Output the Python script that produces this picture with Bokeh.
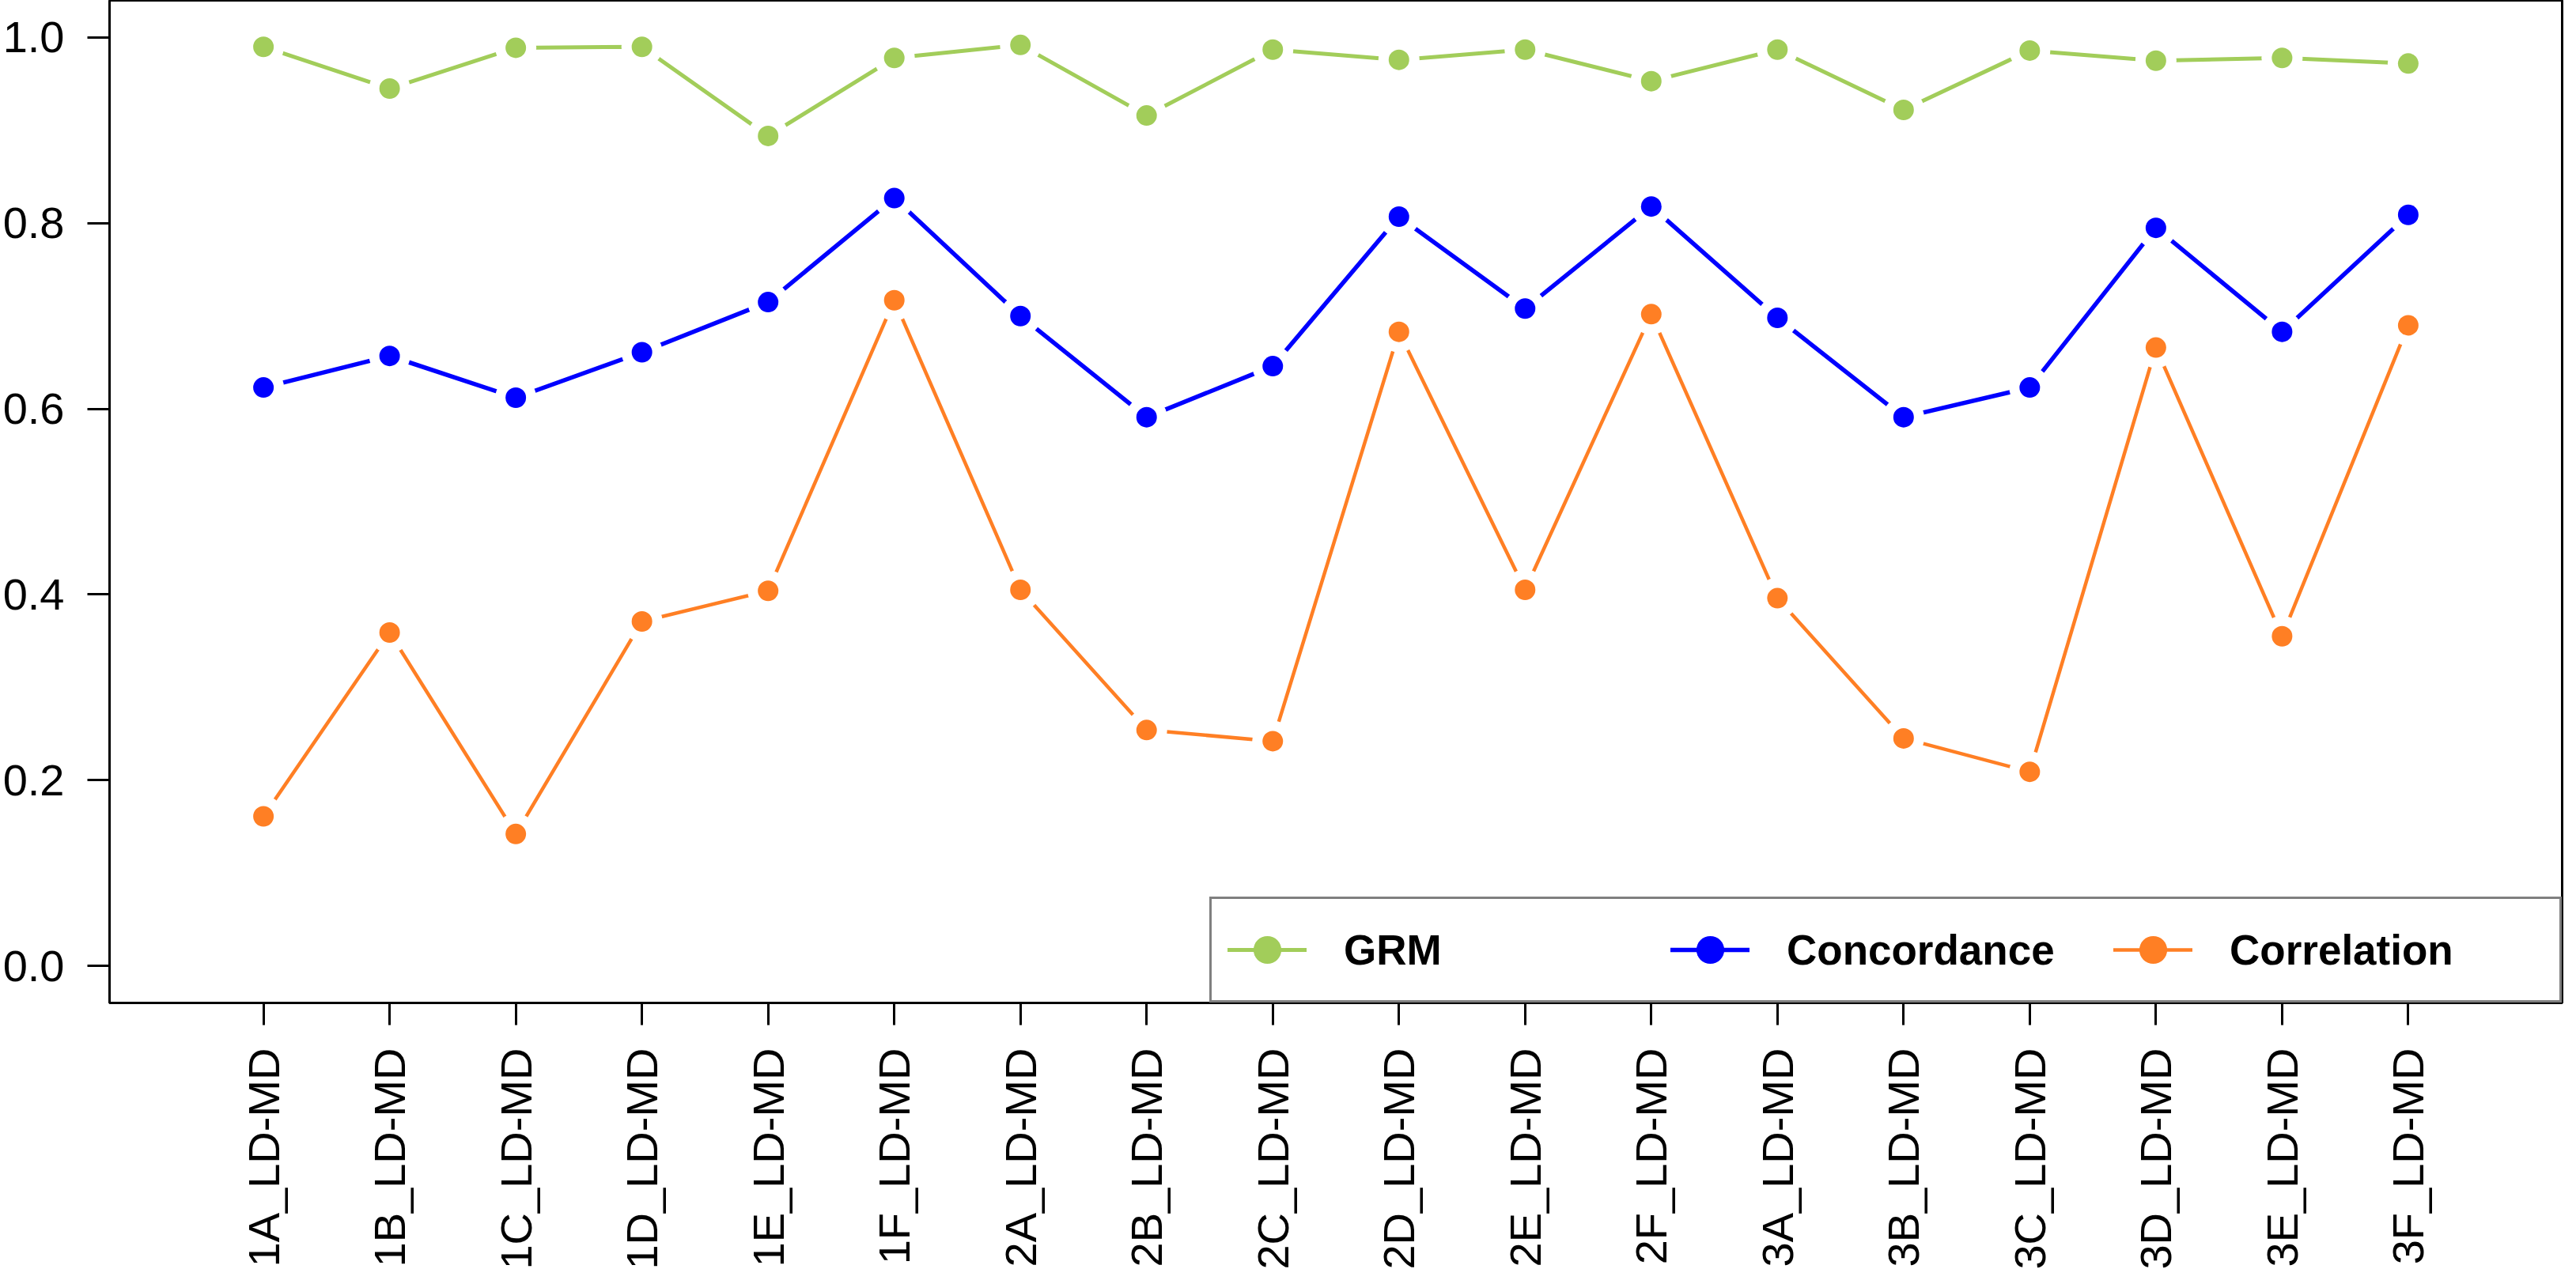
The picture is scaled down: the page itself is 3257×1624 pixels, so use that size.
import math
from bokeh.plotting import figure
from bokeh.models import Range1d, FixedTicker, Legend, LegendItem, ColumnDataSource
from bokeh.embed import file_html
from bokeh.resources import INLINE

categories = ["1A_LD-MD", "1B_LD-MD", "1C_LD-MD", "1D_LD-MD", "1E_LD-MD", "1F_LD-MD",
              "2A_LD-MD", "2B_LD-MD", "2C_LD-MD", "2D_LD-MD", "2E_LD-MD", "2F_LD-MD",
              "3A_LD-MD", "3B_LD-MD", "3C_LD-MD", "3D_LD-MD", "3E_LD-MD", "3F_LD-MD"]
grm = [0.990, 0.945, 0.989, 0.990, 0.894, 0.978, 0.992, 0.916, 0.987,
       0.976, 0.987, 0.953, 0.987, 0.922, 0.986, 0.975, 0.978, 0.972]
concordance = [0.623, 0.657, 0.612, 0.661, 0.715, 0.827, 0.700, 0.591, 0.646,
               0.807, 0.708, 0.818, 0.698, 0.591, 0.623, 0.795, 0.683, 0.809]
correlation = [0.161, 0.359, 0.142, 0.371, 0.404, 0.717, 0.405, 0.254, 0.242,
               0.683, 0.405, 0.702, 0.396, 0.245, 0.209, 0.666, 0.355, 0.690]
y_ticks = [0.0, 0.2, 0.4, 0.6, 0.8, 1.0]

series = [("GRM", grm, "#A2CD5A", 5),
          ("Concordance", concordance, "#0000FF", 5.5),
          ("Correlation", correlation, "#FF7F24", 4.5)]

xs = list(range(len(categories)))
FONT = "Liberation Sans"

p = figure(width=3241, height=1608, output_backend="svg", toolbar_location=None,
           x_range=Range1d(-1.22, len(categories) - 1 + 1.22),
           y_range=Range1d(-0.04, 1.04),
           min_border_left=127, min_border_right=2, min_border_top=0,
           min_border_bottom=333)
p.xgrid.visible = False
p.ygrid.visible = False
p.outline_line_color = "black"
p.outline_line_width = 3
p.background_fill_color = "white"
p.border_fill_color = "white"

for ax in (p.xaxis[0], p.yaxis[0]):
    ax.axis_line_color = None
    ax.major_tick_line_color = "black"
    ax.major_tick_line_width = 3
    ax.major_tick_out = 28
    ax.major_tick_in = 0
    ax.minor_tick_line_color = None
    ax.major_label_text_font = FONT
    ax.major_label_text_font_size = "56px"
    ax.major_label_text_color = "black"
    ax.major_label_standoff = 29

p.xaxis.ticker = FixedTicker(ticks=xs)
p.xaxis.major_label_overrides = {i: c for i, c in zip(xs, categories)}
p.xaxis.major_label_orientation = math.pi / 2
p.yaxis.ticker = FixedTicker(ticks=y_ticks)
p.yaxis.major_label_overrides = {t: f"{t:.1f}" for t in y_ticks}

line_rs = []
for name, vals, col, lw in series:
    src = ColumnDataSource(dict(x=xs, y=vals))
    lr = p.line("x", "y", source=src, line_color=col, line_width=lw,
                line_cap="round", line_join="round")
    line_rs.append(lr)

items = []
for (name, vals, col, lw), lr in zip(series, line_rs):
    src = ColumnDataSource(dict(x=xs, y=vals))
    p.scatter("x", "y", source=src, size=52, fill_color="white", line_color=None)
    dr = p.scatter("x", "y", source=src, size=26, fill_color=col, line_color=None)
    items.append(LegendItem(label=name, renderers=[lr, dr]))

legend = Legend(items=items, orientation="horizontal", location="bottom_right",
                glyph_width=100, glyph_height=88, label_standoff=47,
                label_width=397, spacing=16, padding=20, margin=0,
                label_text_font=FONT, label_text_font_size="53px",
                label_text_font_style="bold", label_text_color="black",
                border_line_color="black", border_line_width=3,
                background_fill_color="white", background_fill_alpha=1.0)
p.add_layout(legend, "center")

open("out.html", "w").write(file_html(p, INLINE))
